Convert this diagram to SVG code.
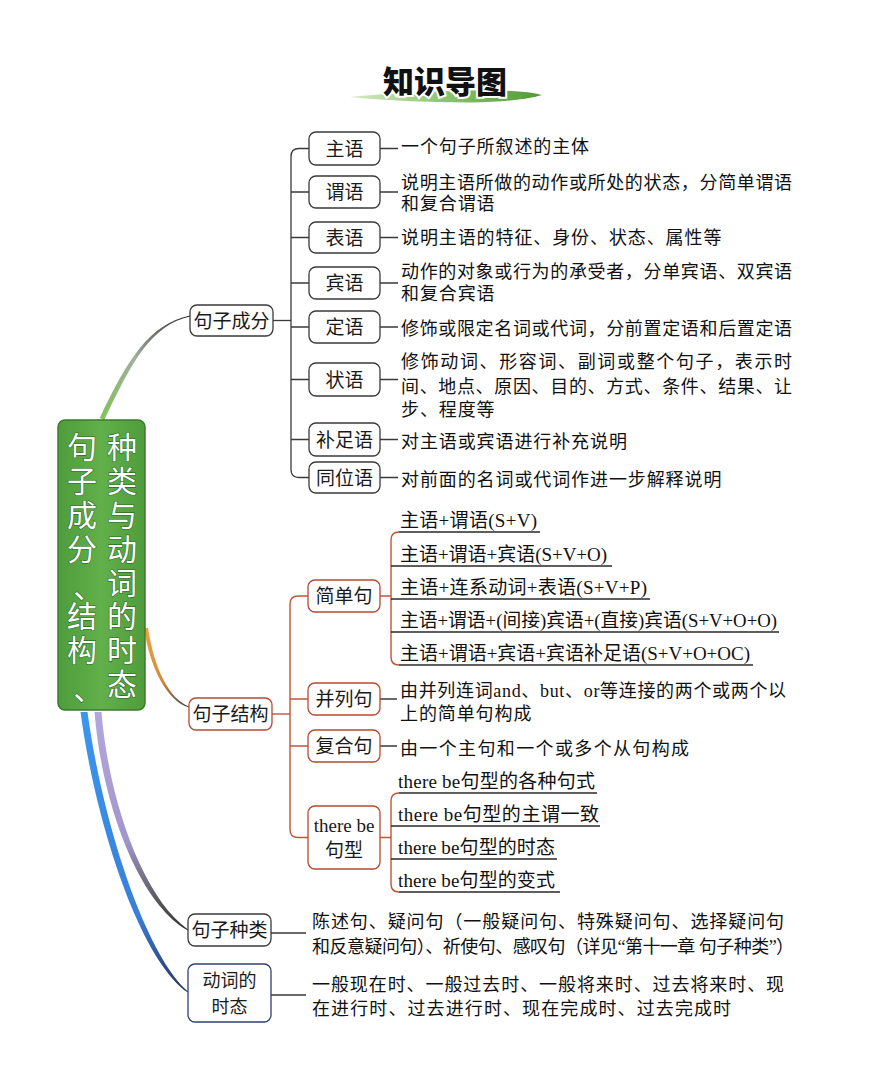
<svg xmlns="http://www.w3.org/2000/svg" width="894" height="1080" viewBox="0 0 894 1080">
<defs>
<style>
.bk{fill:#fff;stroke:#3a3a3a;stroke-width:1.3}
.br{fill:#fff;stroke:#b54a32;stroke-width:1.3}
.bn{fill:#fff;stroke:#2e3f73;stroke-width:1.3}
.nt{font-family:"Noto Sans CJK SC","Noto Sans",sans-serif;font-size:19px;fill:#1a1a1a;text-anchor:middle}
.ds{font-family:"Liberation Serif","Noto Sans CJK SC",serif;font-size:18px;fill:#111;letter-spacing:0.9px}
.it{font-family:"Liberation Serif","Noto Sans CJK SC",serif;font-size:19px;fill:#111}
.ck{fill:none;stroke:#3a3a3a;stroke-width:1.3}
.cr{fill:none;stroke:#c0553a;stroke-width:1.4}
.ul{fill:none;stroke:#2a2a2a;stroke-width:1.3}
.rt{font-family:"Noto Sans CJK SC",sans-serif;font-size:30px;fill:#fff;stroke:#2f6a25;stroke-width:1.2;paint-order:stroke;writing-mode:vertical-rl;letter-spacing:3.8px}
</style>
<linearGradient id="gBrush" x1="350" y1="0" x2="542" y2="0" gradientUnits="userSpaceOnUse">
<stop offset="0" stop-color="#d6e9c8"/><stop offset="0.5" stop-color="#8cc46a"/><stop offset="1" stop-color="#4f9a36"/>
</linearGradient>
<linearGradient id="gRoot" x1="0" y1="0" x2="1" y2="0">
<stop offset="0" stop-color="#4f9c3c"/><stop offset="0.5" stop-color="#61b04a"/><stop offset="1" stop-color="#4f9c3c"/>
</linearGradient>
<linearGradient id="gGreen" x1="102" y1="419" x2="190" y2="316" gradientUnits="userSpaceOnUse">
<stop offset="0" stop-color="#7fc45a"/><stop offset="0.5" stop-color="#a3ad9f"/><stop offset="1" stop-color="#333"/>
</linearGradient>
<linearGradient id="gOrange" x1="146" y1="628" x2="189" y2="707" gradientUnits="userSpaceOnUse">
<stop offset="0" stop-color="#f0a040"/><stop offset="0.6" stop-color="#d88a3a"/><stop offset="1" stop-color="#444"/>
</linearGradient>
<linearGradient id="gPurple" x1="98" y1="712" x2="188" y2="930" gradientUnits="userSpaceOnUse">
<stop offset="0" stop-color="#b3a6df"/><stop offset="0.55" stop-color="#a196cc"/><stop offset="0.85" stop-color="#555"/><stop offset="1" stop-color="#333"/>
</linearGradient>
<linearGradient id="gBlue" x1="84" y1="712" x2="188" y2="992" gradientUnits="userSpaceOnUse">
<stop offset="0" stop-color="#3a97ee"/><stop offset="0.7" stop-color="#3a7fd8"/><stop offset="1" stop-color="#26325e"/>
</linearGradient>
</defs>
<rect x="0" y="0" width="894" height="1080" fill="#fff"/>

<g id="title">
<path d="M350 97 Q400 92 470 90.5 Q522 89.5 542 95 Q522 101.5 470 102.5 Q400 102 350 97 Z" fill="url(#gBrush)"/>
<text x="445" y="93" font-family="Noto Sans CJK SC,sans-serif" font-size="31" font-weight="900" fill="#111" stroke="#fff" stroke-width="4" paint-order="stroke" text-anchor="middle">知识导图</text>
</g>

<g id="connectors">
<path d="M99.8 417.9 C127.8 358.9 149 324.5 189.9 315.5 L190.1 316.5 C151 325.5 132.2 361.1 104.2 420.1 Z" fill="url(#gGreen)"/>
<path d="M144 628.3 C150 668.3 167 701 189 707.6 L189 706.4 C169 699 154 667.7 148 627.7 Z" fill="url(#gOrange)"/>
<path d="M94.5 712 C101.5 800 137 902 188 930.6 L188 929.4 C143 898 108.5 800 101.5 712 Z" fill="url(#gPurple)"/>
<path d="M80.5 712 C96.5 830 142 962 188 992.6 L188 991.4 C148 958 103.5 830 87.5 712 Z" fill="url(#gBlue)"/>
<path class="ck" d="M273 320.5 H291"/>
<path class="ck" d="M309 148.5 H299 Q291 148.5 291 156.5 V469.5 Q291 477.5 299 477.5 H309"/>
<path class="ck" d="M291 192 H309 M291 237.5 H309 M291 283 H309 M291 327 H309 M291 379.5 H309 M291 439.5 H309"/>
<path class="ck" d="M380 148.5 H398 M380 192 H398 M380 237.5 H398 M380 283 H398 M380 327 H398 M380 379.5 H398 M380 439.5 H398 M380 477.5 H398"/>
<path class="cr" d="M272 714 H290"/>
<path class="cr" d="M308 596 H298 Q290 596 290 604 V829.5 Q290 837.5 298 837.5 H308"/>
<path class="cr" d="M290 699 H308 M290 746 H308"/>
<path class="cr" d="M380 596 H391 M399 532 Q391 532 391 540 V657 Q391 665 399 665"/>
<path class="ul" d="M399 532 H540 M391 566 H612 M391 599 H650 M391 632 H779 M399 665 H753"/>
<path class="ck" d="M380 699 H397 M380 746 H397"/>
<path class="cr" d="M380 837.5 H391 M399 793 Q391 793 391 801 V884 Q391 892 399 892"/>
<path class="ul" d="M399 793 H597 M391 826 H600 M391 859 H557 M399 892 H560"/>
<path class="ck" d="M271 933 H306"/>
<path class="ck" d="M271 995 H306"/>
</g>

<g id="root">
<rect x="58" y="420" width="87" height="290" rx="7" fill="url(#gRoot)" stroke="#3c7a2e" stroke-width="1.5"/>
<text class="rt" x="82" y="432">句子成分<tspan dx="-12" dy="24">、</tspan><tspan dx="12" dy="-24">结构</tspan><tspan dx="-12" dy="24">、</tspan></text>
<text class="rt" x="122" y="432">种类与动词的时态</text>
</g>

<g id="n-juzichengfen">
<rect class="bk" x="190" y="305" width="83" height="31" rx="7"/>
<text class="nt" x="231.5" y="327.5">句子成分</text>
</g>
<g id="n-zhuyu"><rect class="bk" x="309" y="132" width="71" height="33" rx="7"/><text class="nt" x="344.5" y="155.5">主语</text>
<text class="ds" x="401" y="152.5">一个句子所叙述的主体</text></g>
<g id="n-weiyu"><rect class="bk" x="309" y="176" width="71" height="32" rx="7"/><text class="nt" x="344.5" y="199">谓语</text>
<text class="ds" x="401" y="188.5" textLength="392" lengthAdjust="spacing">说明主语所做的动作或所处的状态，分简单谓语</text>
<text class="ds" x="401" y="210">和复合谓语</text></g>
<g id="n-biaoyu"><rect class="bk" x="309" y="222" width="71" height="31" rx="7"/><text class="nt" x="344.5" y="244.5">表语</text>
<text class="ds" x="401" y="243.5">说明主语的特征、身份、状态、属性等</text></g>
<g id="n-binyu"><rect class="bk" x="309" y="267" width="71" height="32" rx="7"/><text class="nt" x="344.5" y="290">宾语</text>
<text class="ds" x="401" y="277.5" textLength="392" lengthAdjust="spacing">动作的对象或行为的承受者，分单宾语、双宾语</text>
<text class="ds" x="401" y="299.5">和复合宾语</text></g>
<g id="n-dingyu"><rect class="bk" x="309" y="311" width="71" height="32" rx="7"/><text class="nt" x="344.5" y="334">定语</text>
<text class="ds" x="401" y="335" textLength="392" lengthAdjust="spacing">修饰或限定名词或代词，分前置定语和后置定语</text></g>
<g id="n-zhuangyu"><rect class="bk" x="309" y="363" width="71" height="33" rx="7"/><text class="nt" x="344.5" y="386.5">状语</text>
<text class="ds" x="401" y="367.5" textLength="392" lengthAdjust="spacing">修饰动词、形容词、副词或整个句子，表示时</text>
<text class="ds" x="401" y="392.5" textLength="392" lengthAdjust="spacing">间、地点、原因、目的、方式、条件、结果、让</text>
<text class="ds" x="401" y="415.5">步、程度等</text></g>
<g id="n-buzuyu"><rect class="bk" x="309" y="423" width="71" height="33" rx="7"/><text class="nt" x="344.5" y="446.5">补足语</text>
<text class="ds" x="401" y="447.5">对主语或宾语进行补充说明</text></g>
<g id="n-tongweiyu"><rect class="bk" x="309" y="462" width="71" height="31" rx="7"/><text class="nt" x="344.5" y="484.5">同位语</text>
<text class="ds" x="401" y="485.5">对前面的名词或代词作进一步解释说明</text></g>

<g id="n-juzijiegou">
<rect class="br" x="189" y="698" width="83" height="32" rx="7"/>
<text class="nt" x="230.5" y="721">句子结构</text>
</g>
<g id="n-jiandanju"><rect class="br" x="308" y="580" width="72" height="32" rx="7"/><text class="nt" x="344" y="603">简单句</text>
<text class="it" x="400" y="527" textLength="137" lengthAdjust="spacing">主语+谓语(S+V)</text>
<text class="it" x="400" y="561" textLength="207" lengthAdjust="spacing">主语+谓语+宾语(S+V+O)</text>
<text class="it" x="400" y="594" textLength="247" lengthAdjust="spacing">主语+连系动词+表语(S+V+P)</text>
<text class="it" x="400" y="627" textLength="377" lengthAdjust="spacingAndGlyphs">主语+谓语+(间接)宾语+(直接)宾语(S+V+O+O)</text>
<text class="it" x="400" y="660" textLength="350" lengthAdjust="spacing">主语+谓语+宾语+宾语补足语(S+V+O+OC)</text>
</g>
<g id="n-binglieju"><rect class="br" x="308" y="683" width="72" height="32" rx="7"/><text class="nt" x="344" y="706">并列句</text>
<text class="ds" x="400" y="696.5" textLength="387" lengthAdjust="spacing">由并列连词and、but、or等连接的两个或两个以</text>
<text class="ds" x="400" y="719.5">上的简单句构成</text></g>
<g id="n-fuheju"><rect class="br" x="308" y="730" width="72" height="32" rx="7"/><text class="nt" x="344" y="753">复合句</text>
<text class="ds" x="400" y="754.5" textLength="290" lengthAdjust="spacing">由一个主句和一个或多个从句构成</text></g>
<g id="n-therebe"><rect class="br" x="308" y="806" width="72" height="63" rx="7"/>
<text class="nt" x="344" y="832" style="font-family:'Liberation Serif',serif">there be</text>
<text class="nt" x="344" y="857">句型</text>
<text class="it" x="398" y="788" font-size="18" textLength="197" lengthAdjust="spacing">there be句型的各种句式</text>
<text class="it" x="398" y="821" font-size="18" textLength="201" lengthAdjust="spacing">there be句型的主谓一致</text>
<text class="it" x="398" y="854" font-size="18" textLength="157" lengthAdjust="spacing">there be句型的时态</text>
<text class="it" x="398" y="887" font-size="18" textLength="157" lengthAdjust="spacing">there be句型的变式</text>
</g>

<g id="n-juzizhonglei">
<rect class="bk" x="188" y="914" width="83" height="32" rx="7"/>
<text class="nt" x="229.5" y="937">句子种类</text>
<text class="ds" x="312" y="927.5" textLength="473" lengthAdjust="spacing">陈述句、疑问句（一般疑问句、特殊疑问句、选择疑问句</text>
<text class="ds" x="312" y="952.5" textLength="483" lengthAdjust="spacing">和反意疑问句）、祈使句、感叹句（详见“第十一章 句子种类”）</text>
</g>
<g id="n-dongcishitai">
<rect class="bn" x="188" y="964" width="83" height="58" rx="7"/>
<text class="nt" x="229.5" y="986.5" font-size="18" style="font-size:18px">动词的</text>
<text class="nt" x="229.5" y="1012.5" style="font-size:18px">时态</text>
<text class="ds" x="312" y="990.5" textLength="473" lengthAdjust="spacing">一般现在时、一般过去时、一般将来时、过去将来时、现</text>
<text class="ds" x="312" y="1014.5" textLength="420" lengthAdjust="spacing">在进行时、过去进行时、现在完成时、过去完成时</text>
</g>
</svg>
